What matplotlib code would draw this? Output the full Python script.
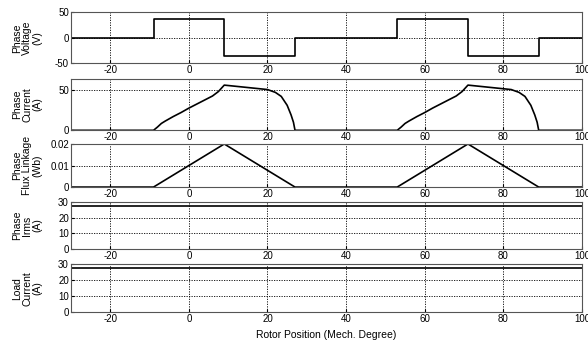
import matplotlib.pyplot as plt

plt.rcParams['font.family'] = ['Liberation Sans', 'DejaVu Sans']
plt.rcParams['font.size'] = 7
plt.rcParams['axes.unicode_minus'] = False

# phase voltage (step waveform)
volt_ang = [-30, -9, 9, 27, 53, 71, 89, 100]
volt_val = [0, 37.5, -35.5, 0, 37.5, -35.5, 0, 0]

# phase current, two strokes
curr_ang = [-30, -9, -8, -7, -6, -4, -2, 0, 2, 4, 6, 7.5, 9, 13, 17, 20, 22, 23.5, 25, 26, 26.6, 27,
            53, 54, 55, 56, 58, 60, 62, 64, 66, 68, 69.5, 71, 75, 79, 82, 84, 85.5, 87, 88, 88.6, 89, 100]
curr_val = [0, 0, 4, 8.5, 11.5, 17, 22, 27.5, 32.5, 37.5, 42.5, 48, 56, 54, 52, 50.5, 47, 42, 31, 19, 10, 0,
            0, 4, 8.5, 11.5, 17, 22, 27.5, 32.5, 37.5, 42.5, 48, 56, 54, 52, 50.5, 47, 42, 31, 19, 10, 0, 0]

# flux linkage
flux_ang = [-30, -9, 9, 27, 53, 71, 89, 100]
flux_val = [0, 0, 0.02, 0, 0, 0.02, 0, 0]

# rms phase current and load current
irms_ang = [-30, 100]
irms_val = [27.5, 27.5]
load_ang = [-30, 100]
load_val = [28, 28]

xticks = [-20, 0, 20, 40, 60, 80, 100]

fig = plt.figure(figsize=(5.88, 3.42), dpi=100)

# [bottom, height] of each panel in figure fraction
rows = [[0.815, 0.149], [0.619, 0.151], [0.453, 0.126], [0.271, 0.139], [0.087, 0.140]]
ylabels = ["Phase\nVoltage\n(V)", "Phase\nCurrent\n(A)", "Phase\nFlux Linkage\n(Wb)",
           "Phase\nIrms\n(A)", "Load\nCurrent\n(A)"]
ylims = [(-50, 50), (0, 64), (0, 0.02), (0, 30), (0, 30)]
yticks = [[-50, 0, 50], [0, 50], [0, 0.01, 0.02], [0, 10, 20, 30], [0, 10, 20, 30]]
data = [(volt_ang, volt_val), (curr_ang, curr_val), (flux_ang, flux_val),
        (irms_ang, irms_val), (load_ang, load_val)]

for i in range(5):
    ax = fig.add_axes([0.1207, rows[i][0], 0.869, rows[i][1]])
    x, y = data[i]
    if i == 0:
        ax.plot(x, y, color="black", lw=1.2, drawstyle="steps-post")
    else:
        ax.plot(x, y, color="black", lw=1.2)
    ax.set_xlim(-30, 100)
    ax.set_ylim(ylims[i])
    ax.set_xticks(xticks)
    ax.set_yticks(yticks[i])
    if i == 2:
        ax.set_yticklabels(["0", "0.01", "0.02"])
    ax.grid(True, color="black", linestyle=(0, (1.5, 1.5)), lw=0.6)
    ax.tick_params(direction="in", length=2, pad=1.5, labelsize=7)
    for s in ax.spines.values():
        s.set_color("#555555")
        s.set_linewidth(0.8)
    ax.set_ylabel(ylabels[i], fontsize=7.5, linespacing=1.0)
    ax.yaxis.set_label_coords(-0.056, 0.5)
    if i == 4:
        ax.set_xlabel("Rotor Position (Mech. Degree)", fontsize=7.5, labelpad=4)

fig.savefig("out.png", dpi=100)
